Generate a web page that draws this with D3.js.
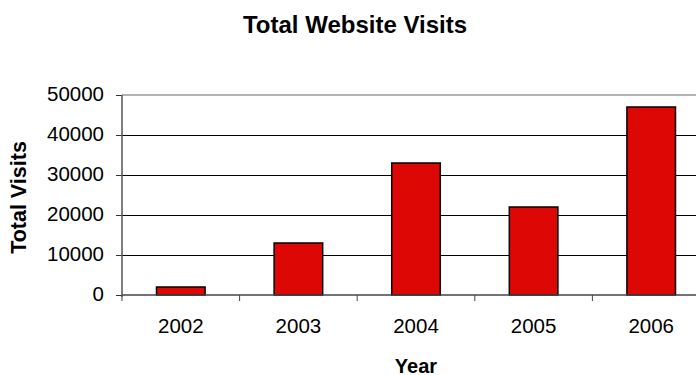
<!DOCTYPE html>
<html>
<head>
<meta charset="utf-8">
<script src="https://cdn.jsdelivr.net/npm/d3@7"></script>
<style>
  html, body { margin: 0; padding: 0; background: #fff; }
  svg { display: block; overflow: hidden; }
  text { font-family: "Liberation Sans", Arial, sans-serif; fill: #000; }
</style>
</head>
<body>
<svg id="chart" width="696" height="375"></svg>
<script>
const years = ["2002", "2003", "2004", "2005", "2006"];
const visits = [2000, 13000, 33000, 22000, 47000];
const yTicks = [0, 10000, 20000, 30000, 40000, 50000];
const chartTitle = "Total Website Visits";
const xTitle = "Year";
const yTitle = "Total Visits";

const W = 696, H = 375;
const plot = { left: 122, top: 95, right: 710, bottom: 295 };

const svg = d3.select("#chart");

const x = d3.scaleBand().domain(years).range([plot.left, plot.right]).padding(0);
const y = d3.scaleLinear().domain([0, 50000]).range([plot.bottom, plot.top]);
const barW = x.bandwidth() * 0.413;

// gridlines
svg.append("g").selectAll("line")
  .data(yTicks.filter(d => d > 0 && d < 50000))
  .join("line")
  .attr("x1", plot.left).attr("x2", plot.right)
  .attr("y1", d => y(d)).attr("y2", d => y(d))
  .attr("stroke", "#000").attr("stroke-width", 1)
  .attr("shape-rendering", "crispEdges");

// plot area top border (gray)
svg.append("line")
  .attr("x1", plot.left).attr("x2", plot.right)
  .attr("y1", y(50000)).attr("y2", y(50000))
  .attr("stroke", "#9a9a9a").attr("stroke-width", 1.5);

// bars
svg.append("g").selectAll("rect")
  .data(years.map((d, i) => ({ year: d, v: visits[i] })))
  .join("rect")
  .attr("x", d => x(d.year) + (x.bandwidth() - barW) / 2)
  .attr("y", d => y(d.v))
  .attr("width", barW)
  .attr("height", d => y(0) - y(d.v))
  .attr("fill", "#dd0806")
  .attr("stroke", "#000")
  .attr("stroke-width", 1.5);

// y axis
const yAxis = svg.append("g")
  .attr("transform", `translate(${plot.left},0)`)
  .call(d3.axisLeft(y).tickValues(yTicks).tickFormat(d3.format("d")).tickSize(6).tickPadding(12));
yAxis.select(".domain").remove();
yAxis.selectAll(".tick line").attr("stroke", "#333");
yAxis.selectAll("text")
  .attr("font-size", "20.5px")
  .attr("dy", "0.25em")
  .attr("font-family", "Liberation Sans, Arial, sans-serif")
  .attr("fill", "#000");
svg.append("line")
  .attr("x1", plot.left).attr("x2", plot.left)
  .attr("y1", plot.top).attr("y2", plot.bottom + 2)
  .attr("stroke", "#555").attr("stroke-width", 1.5);

// x axis
const xAxis = svg.append("g")
  .attr("transform", `translate(0,${plot.bottom})`)
  .call(d3.axisBottom(x).tickSize(0).tickPadding(23));
xAxis.select(".domain").remove();
xAxis.selectAll("text")
  .attr("font-size", "20.5px")
  .attr("font-family", "Liberation Sans, Arial, sans-serif")
  .attr("fill", "#000");
svg.append("line")
  .attr("x1", plot.left).attr("x2", plot.right)
  .attr("y1", plot.bottom).attr("y2", plot.bottom)
  .attr("stroke", "#444").attr("stroke-width", 1.5);
// boundary ticks
svg.append("g").selectAll("line")
  .data(years.concat(["end"]))
  .join("line")
  .attr("x1", (d, i) => plot.left + i * x.step())
  .attr("x2", (d, i) => plot.left + i * x.step())
  .attr("y1", plot.bottom).attr("y2", plot.bottom + 6)
  .attr("stroke", "#444").attr("stroke-width", 1);

// titles
svg.append("text")
  .attr("x", 355).attr("y", 33)
  .attr("text-anchor", "middle")
  .attr("font-size", "24px").attr("font-weight", "bold")
  .text(chartTitle);

svg.append("text")
  .attr("x", (plot.left + plot.right) / 2).attr("y", 372.5)
  .attr("text-anchor", "middle")
  .attr("font-size", "20px").attr("font-weight", "bold")
  .text(xTitle);

svg.append("text")
  .attr("transform", `translate(25.5,197.5) rotate(-90)`)
  .attr("text-anchor", "middle")
  .attr("font-size", "21.5px").attr("font-weight", "bold")
  .text(yTitle);
</script>
</body>
</html>
